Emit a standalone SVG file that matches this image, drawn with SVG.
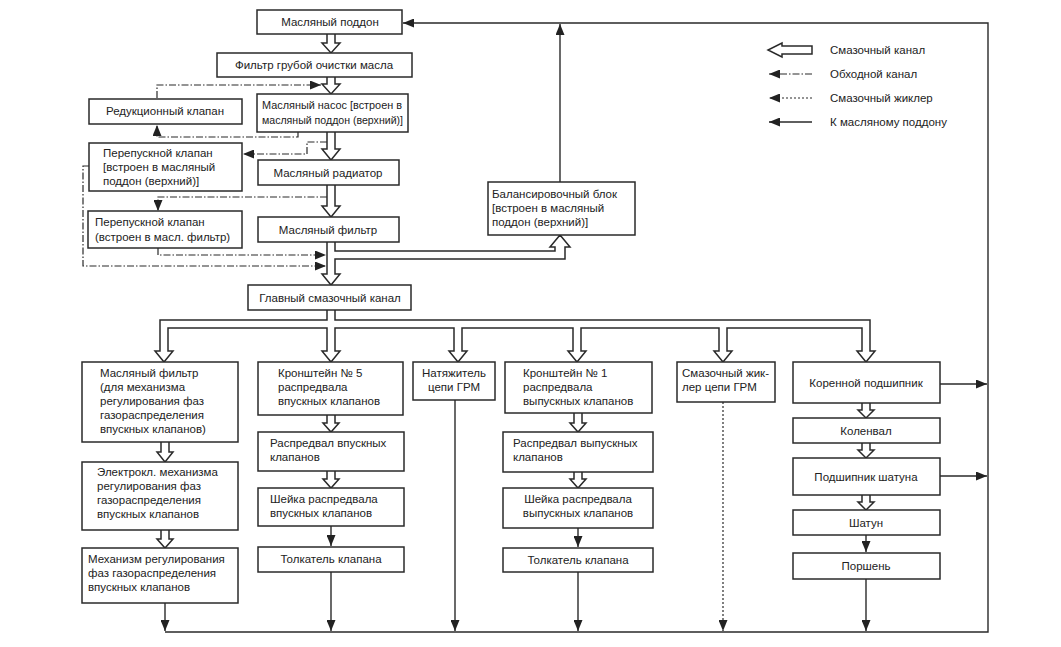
<svg xmlns="http://www.w3.org/2000/svg" width="1061" height="647" viewBox="0 0 1061 647">
<style>
.b{fill:#fff;stroke:#2a2a2a;stroke-width:1.5}
.t{font-family:"Liberation Sans",Arial,sans-serif;font-size:11.5px;fill:#222}
.c{text-anchor:middle}
.h{fill:#fff;stroke:#2a2a2a;stroke-width:1.5;stroke-linejoin:miter}
.s{fill:none;stroke:#2a2a2a;stroke-width:1.4}
.dd{fill:none;stroke:#2a2a2a;stroke-width:1.2;stroke-dasharray:7 2 1.5 2}
.dt{fill:none;stroke:#2a2a2a;stroke-width:1.2;stroke-dasharray:2 2}
</style>
<defs>
<marker id="a" markerUnits="userSpaceOnUse" markerWidth="12" markerHeight="9" refX="11" refY="4.5" orient="auto">
<path d="M0,0 L11,4.5 L0,9 z" fill="#222"/>
</marker>
</defs>
<rect width="1061" height="647" fill="#fff"/>

<g id="connectors">
<path class="h" d="M327,34 V43 H322 L331,53 L340,43 H335 V34"/>
<path class="h" d="M327,77 V84 H322 L331,94 L340,84 H335 V77"/>
<path class="h" d="M327,132 V149 H322 L331,160 L340,149 H335 V132"/>
<path class="h" d="M327,185 V206 H322 L331,217 L340,206 H335 V185"/>
<path class="h" d="M327,242 V274 H322 L331,285 L340,274 H335 V259 H565 V247 H570 L560,235 L550,247 H555 V251 H335 V242"/>
<path class="h" d="M327,310 V320 H160 V351 H155 L164,362 L173,351 H168 V328 H327 V351 H322 L331,362 L340,351 H335 V328 H454 V351 H449 L458,362 L467,351 H462 V328 H573 V351 H568 L577,362 L586,351 H581 V328 H719 V351 H714 L723,362 L732,351 H727 V328 H862 V351 H857 L866,362 L875,351 H870 V320 H335 V310"/>
<path class="h" d="M161,442 V452 H157 L165,462 L173,452 H169 V442"/>
<path class="h" d="M161,530 V539 H157 L165,548 L173,539 H169 V530"/>
<path class="h" d="M327,415 V423 H323 L331,432 L339,423 H335 V415"/>
<path class="h" d="M327,471 V479 H323 L331,488 L339,479 H335 V471"/>
<path class="h" d="M574,413 V423 H570 L578,432 L586,423 H582 V413"/>
<path class="h" d="M574,472 V479 H570 L578,488 L586,479 H582 V472"/>
<path class="h" d="M862,403 V410 H858 L866,418 L874,410 H870 V403"/>
<path class="h" d="M862,443 V450 H858 L866,458 L874,450 H870 V443"/>
<path class="h" d="M862,495 V502 H858 L866,510 L874,502 H870 V495"/>
<path class="dd" d="M157,98 V85 H321" marker-end="url(#a)"/>
<path class="dd" d="M298,132 V137 H157 V125" marker-end="url(#a)"/>
<path class="dd" d="M327,142 H307 V154 H243" marker-end="url(#a)"/>
<path class="dd" d="M89,166 H83 V266 H326" marker-end="url(#a)"/>
<path class="dd" d="M327,197 H158 V211" marker-end="url(#a)"/>
<path class="dd" d="M158,248 V255 H326" marker-end="url(#a)"/>
<path class="s" d="M560,182 V24" marker-end="url(#a)"/>
<path class="s" d="M165,632 H988 V23 H403" marker-end="url(#a)"/>
<path class="s" d="M165,603 V631" marker-end="url(#a)"/>
<path class="s" d="M331,572 V631" marker-end="url(#a)"/>
<path class="s" d="M455,400 V631" marker-end="url(#a)"/>
<path class="s" d="M578,572 V631" marker-end="url(#a)"/>
<path class="dt" d="M723,402 V631" marker-end="url(#a)"/>
<path class="s" d="M866,579 V631" marker-end="url(#a)"/>
<path class="s" d="M940,384 H987" marker-end="url(#a)"/>
<path class="s" d="M940,476 H987" marker-end="url(#a)"/>
<path class="s" d="M331,526 V546" marker-end="url(#a)"/>
<path class="s" d="M578,528 V547" marker-end="url(#a)"/>
<path class="s" d="M866,535 V552" marker-end="url(#a)"/>
</g>

<g id="legend">
<path class="h" d="M812,46 H782 V43 L768,50 L782,57 V54 H812 Z"/>
<path class="dd" d="M812,74 H769" marker-end="url(#a)"/>
<path class="dt" d="M812,98 H769" marker-end="url(#a)"/>
<path class="s" d="M812,122 H769" marker-end="url(#a)"/>
<text class="t" x="830" y="54">Смазочный канал</text>
<text class="t" x="830" y="78">Обходной канал</text>
<text class="t" x="830" y="102">Смазочный жиклер</text>
<text class="t" x="830" y="126">К масляному поддону</text>
</g>

<g id="n-poddon"><rect class="b" x="257" y="10" width="145" height="24"/><text class="t c" x="330" y="26">Масляный поддон</text></g>
<g id="n-filter-coarse"><rect class="b" x="217" y="53" width="195" height="24"/><text class="t c" x="314" y="69">Фильтр грубой очистки масла</text></g>
<g id="n-reduction"><rect class="b" x="89" y="99" width="153" height="25"/><text class="t c" x="165" y="115">Редукционный клапан</text></g>
<g id="n-pump"><rect class="b" x="257" y="94" width="151" height="38"/><text class="t" x="262" y="109" textLength="140" lengthAdjust="spacingAndGlyphs">Масляный насос [встроен в</text><text class="t" x="262" y="124" textLength="141" lengthAdjust="spacingAndGlyphs">масляный поддон (верхний)]</text></g>
<g id="n-bypass1"><rect class="b" x="89" y="143" width="153" height="48"/><text class="t" x="103" y="157">Перепускной клапан</text><text class="t" x="103" y="171">[встроен в масляный</text><text class="t" x="103" y="185">поддон (верхний)]</text></g>
<g id="n-radiator"><rect class="b" x="258" y="160" width="141" height="25"/><text class="t c" x="328" y="177">Масляный радиатор</text></g>
<g id="n-bypass2"><rect class="b" x="88" y="211" width="154" height="37"/><text class="t" x="95" y="226">Перепускной клапан</text><text class="t" x="95" y="241">(встроен в масл. фильтр)</text></g>
<g id="n-oilfilter"><rect class="b" x="258" y="217" width="141" height="25"/><text class="t c" x="328" y="234">Масляный фильтр</text></g>
<g id="n-balancer"><rect class="b" x="488" y="182" width="147" height="53"/><text class="t" x="492" y="198">Балансировочный блок</text><text class="t" x="492" y="212">[встроен в масляный</text><text class="t" x="492" y="226">поддон (верхний)]</text></g>
<g id="n-main"><rect class="b" x="248" y="285" width="163" height="25"/><text class="t c" x="330" y="302">Главный смазочный канал</text></g>

<g id="n-vvt-filter"><rect class="b" x="82" y="362" width="156" height="80"/><text class="t" x="100" y="377">Масляный фильтр</text><text class="t" x="100" y="391">(для механизма</text><text class="t" x="100" y="405">регулирования фаз</text><text class="t" x="100" y="419">газораспределения</text><text class="t" x="100" y="433">впускных клапанов)</text></g>
<g id="n-vvt-valve"><rect class="b" x="82" y="462" width="156" height="68"/><text class="t" x="97" y="476">Электрокл. механизма</text><text class="t" x="97" y="490">регулирования фаз</text><text class="t" x="97" y="504">газораспределения</text><text class="t" x="97" y="518">впускных клапанов</text></g>
<g id="n-vvt"><rect class="b" x="82" y="548" width="156" height="55"/><text class="t" x="88" y="563">Механизм регулирования</text><text class="t" x="88" y="577">фаз газораспределения</text><text class="t" x="88" y="591">впускных клапанов</text></g>

<g id="n-bracket5"><rect class="b" x="258" y="362" width="145" height="53"/><text class="t" x="278" y="377">Кронштейн № 5</text><text class="t" x="278" y="391">распредвала</text><text class="t" x="278" y="405">впускных клапанов</text></g>
<g id="n-cam-in"><rect class="b" x="258" y="432" width="146" height="39"/><text class="t" x="270" y="447">Распредвал впускных</text><text class="t" x="270" y="461">клапанов</text></g>
<g id="n-journal-in"><rect class="b" x="258" y="488" width="146" height="38"/><text class="t" x="270" y="503">Шейка распредвала</text><text class="t" x="270" y="517">впускных клапанов</text></g>
<g id="n-lifter-in"><rect class="b" x="258" y="547" width="146" height="25"/><text class="t c" x="331" y="563">Толкатель клапана</text></g>

<g id="n-tensioner"><rect class="b" x="413" y="362" width="82" height="38"/><text class="t c" x="454" y="377">Натяжитель</text><text class="t c" x="454" y="391">цепи ГРМ</text></g>

<g id="n-bracket1"><rect class="b" x="505" y="362" width="147" height="51"/><text class="t" x="523" y="377">Кронштейн № 1</text><text class="t" x="523" y="391">распредвала</text><text class="t" x="523" y="405">выпускных клапанов</text></g>
<g id="n-cam-ex"><rect class="b" x="503" y="432" width="150" height="40"/><text class="t" x="513" y="447">Распредвал выпускных</text><text class="t" x="513" y="461">клапанов</text></g>
<g id="n-journal-ex"><rect class="b" x="503" y="488" width="150" height="40"/><text class="t c" x="578" y="503">Шейка распредвала</text><text class="t c" x="578" y="517">выпускных клапанов</text></g>
<g id="n-lifter-ex"><rect class="b" x="503" y="548" width="150" height="24"/><text class="t c" x="578" y="564">Толкатель клапана</text></g>

<g id="n-jet"><rect class="b" x="677" y="362" width="98" height="40"/><text class="t" x="682" y="377">Смазочный жик-</text><text class="t" x="682" y="391">лер цепи ГРМ</text></g>

<g id="n-main-bearing"><rect class="b" x="793" y="362" width="147" height="41"/><text class="t c" x="866" y="387">Коренной подшипник</text></g>
<g id="n-crank"><rect class="b" x="793" y="418" width="147" height="25"/><text class="t c" x="866" y="435">Коленвал</text></g>
<g id="n-rod-bearing"><rect class="b" x="793" y="458" width="147" height="37"/><text class="t c" x="866" y="481">Подшипник шатуна</text></g>
<g id="n-rod"><rect class="b" x="793" y="510" width="147" height="25"/><text class="t c" x="866" y="527">Шатун</text></g>
<g id="n-piston"><rect class="b" x="793" y="553" width="147" height="26"/><text class="t c" x="866" y="570">Поршень</text></g>
</svg>
